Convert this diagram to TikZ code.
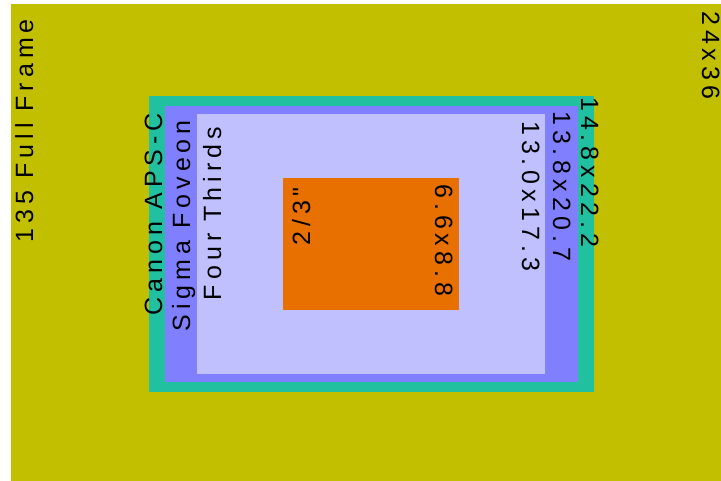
\documentclass[tikz,border=0pt]{standalone}
\usepackage{fontspec}
\newfontfamily\lblfont[LetterSpace=20]{Liberation Sans}
\definecolor{ffolive}{RGB}{194,191,0}
\definecolor{apsteal}{RGB}{32,192,160}
\definecolor{foveonblue}{RGB}{128,128,255}
\definecolor{ftlav}{RGB}{192,192,255}
\definecolor{twothirds}{RGB}{232,112,0}

\begin{document}
\begin{tikzpicture}[
  x=1pt,y=-1pt,
  sensor/.style={rectangle,inner sep=0pt,outer sep=0pt,anchor=north west},
  lbl/.style={inner sep=0pt,font=\lblfont\fontsize{25}{30}\selectfont},
  uplbl/.style={lbl,rotate=90,anchor=base east},
  downlbl/.style={lbl,rotate=-90,anchor=base west}
]
\useasboundingbox (0,0) rectangle (721,481);
\fill[white] (0,0) rectangle (721,481);

% Sensors
\node[sensor,fill=ffolive,minimum width=710pt,minimum height=477pt] (ff) at (11,4) {};
\node[sensor,fill=apsteal,minimum width=445pt,minimum height=296pt] (aps) at (149,96) {};
\node[sensor,fill=foveonblue,minimum width=413pt,minimum height=276pt] (foveon) at (165,106) {};
\node[sensor,fill=ftlav,minimum width=348pt,minimum height=260pt] (ft) at (197,114) {};
\node[sensor,fill=twothirds,minimum width=176pt,minimum height=132pt] (tt) at (283,178) {};

% Names
\node[uplbl] (ffname) at (33,19) {135 Full Frame};
\node[uplbl] (apsname) at (162,113) {Canon APS-C};
\node[uplbl] (foveonname) at (190,120) {Sigma Foveon};
\node[uplbl] (ftname) at (221,127) {Four Thirds};
\node[uplbl] (ttname) at (310,187) {2/3"};

% Sizes
\node[downlbl] (ffsize) at (702,11) {24x36};
\node[downlbl] (apssize) at (581,97) {14.8x22.2};
\node[downlbl] (foveonsize) at (553,111) {13.8x20.7};
\node[downlbl] (ftsize) at (522,121) {13.0x17.3};
\node[downlbl] (ttsize) at (435,184) {6.6x8.8};

\end{tikzpicture}
\end{document}
